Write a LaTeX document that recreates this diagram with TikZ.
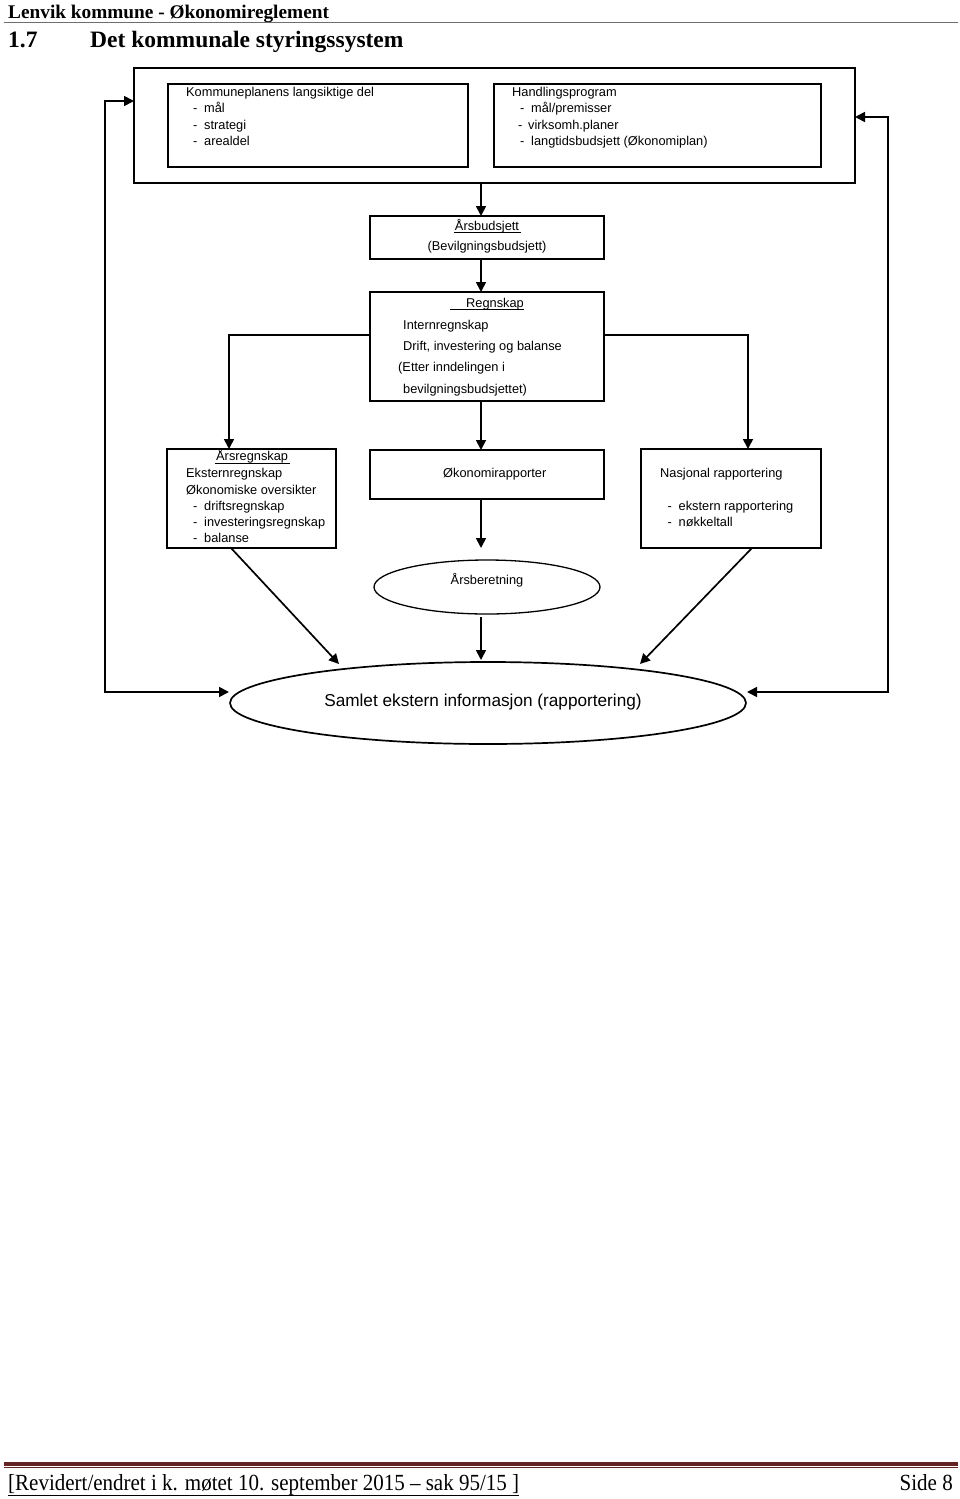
\documentclass[tikz,border=0pt]{standalone}
\usepackage{fontspec}
\setmainfont{Liberation Serif}
\setsansfont{Liberation Sans}
\usetikzlibrary{arrows.meta,shapes.geometric,calc}
\definecolor{footred}{HTML}{632423}
\definecolor{hdrgray}{HTML}{6E6E6E}
\begin{document}
\begin{tikzpicture}[x=1pt,y=-1pt,
  box/.style={draw,line width=1.8pt,inner sep=0pt,outer sep=0pt},
  ell/.style={draw,ellipse,line width=1.7pt,inner sep=0pt,outer sep=0pt},
  conn/.style={line width=1.7pt,-{Triangle[length=10pt,width=10pt]}},
  dconn/.style={line width=1.7pt,{Triangle[length=10pt,width=10pt]}-{Triangle[length=10pt,width=10pt]}},
  sm/.style={font=\sffamily\fontsize{12.8}{15}\selectfont,inner sep=0pt,anchor=base west},
  smc/.style={sm,anchor=base},
  uline/.style={line width=0.8pt}]
\useasboundingbox (0,0) rectangle (960,1499);

% header
\node[anchor=base west,inner sep=0pt,font=\bfseries\fontsize{19.3}{22}\selectfont] (hdr) at (8,18) {Lenvik kommune - Økonomireglement};
\draw[hdrgray,line width=1.2pt] (4,22.5) -- (958,22.5);
\node[anchor=base west,inner sep=0pt,font=\bfseries\fontsize{23.5}{26}\selectfont] (secnum) at (8,47) {1.7};
\node[anchor=base west,inner sep=0pt,font=\bfseries\fontsize{23.5}{26}\selectfont] (sectitle) at (90,47) {Det kommunale styringssystem};

% boxes
\node[box,minimum width=721pt,minimum height=115pt] (outer) at (494.5,125.5) {};
\node[box,minimum width=300pt,minimum height=83pt] (kp) at (318,125.5) {};
\node[box,minimum width=327pt,minimum height=83pt] (hp) at (657.5,125.5) {};
\node[box,minimum width=234pt,minimum height=43pt] (ab) at (487,237.5) {};
\node[box,minimum width=234pt,minimum height=109pt] (rg) at (487,346.5) {};
\node[box,minimum width=169pt,minimum height=99pt] (arsr) at (251.5,498.5) {};
\node[box,minimum width=234pt,minimum height=49pt] (okr) at (487,474.5) {};
\node[box,minimum width=180pt,minimum height=99pt] (nasj) at (731,498.5) {};
\node[ell,line width=1.3pt,minimum width=226pt,minimum height=54pt] (arsber) at (487,587) {};
\node[ell,minimum width=516pt,minimum height=82pt] (samlet) at (488,703) {};

% texts: kommuneplan
\node[sm] (kp0) at (186,96) {Kommuneplanens langsiktige del};
\node[sm] (kp1) at (193,112.3) {\makebox[11pt][l]{-}mål};
\node[sm] (kp2) at (193,129) {\makebox[11pt][l]{-}strategi};
\node[sm] (kp3) at (193,145.3) {\makebox[11pt][l]{-}arealdel};
% handlingsprogram
\node[sm] (hp0) at (512,96) {Handlingsprogram};
\node[sm] (hp1) at (520,112.3) {\makebox[11pt][l]{-}mål/premisser};
\node[sm] (hp2) at (518,129) {\makebox[10pt][l]{-}virksomh.planer};
\node[sm] (hp3) at (520,145.3) {\makebox[11pt][l]{-}langtidsbudsjett (Økonomiplan)};
% arsbudsjett
\node[smc] (ab1) at (487,230.5) {Årsbudsjett};
\draw[uline] ($(ab1.base west)+(-1,2.3)$) -- ($(ab1.base east)+(2,2.3)$);
\node[smc] (ab2) at (487,250.5) {(Bevilgningsbudsjett)};
% regnskap
\node[sm] (rg0) at (466,307) {Regnskap};
\draw[uline] ($(rg0.base west)+(-16,2)$) -- ($(rg0.base east)+(0,2)$);
\node[sm] (rg1) at (403,329) {Internregnskap};
\node[sm] (rg2) at (403,350.5) {Drift, investering og balanse};
\node[sm] (rg3) at (398,371.5) {(Etter inndelingen i};
\node[sm] (rg4) at (403,393) {bevilgningsbudsjettet)};
% arsregnskap
\node[sm] (ar0) at (216,460.7) {Årsregnskap};
\draw[uline] ($(ar0.base west)+(-1,2.2)$) -- ($(ar0.base east)+(2,2.2)$);
\node[sm] (ar1) at (186,477.7) {Eksternregnskap};
\node[sm] (ar2) at (186,494) {Økonomiske oversikter};
\node[sm] (ar3) at (193,510.3) {\makebox[11pt][l]{-}driftsregnskap};
\node[sm] (ar4) at (193,526.6) {\makebox[11pt][l]{-}investeringsregnskap};
\node[sm] (ar5) at (193,542.6) {\makebox[11pt][l]{-}balanse};
% okonomirapporter
\node[sm] (ok0) at (443,477) {Økonomirapporter};
% nasjonal
\node[sm] (na0) at (660,477.3) {Nasjonal rapportering};
\node[sm] (na1) at (667.5,510.5) {\makebox[11pt][l]{-}ekstern rapportering};
\node[sm] (na2) at (667.5,526.5) {\makebox[11pt][l]{-}nøkkeltall};
% arsberetning / samlet
\node[smc] (ae0) at (487,584) {Årsberetning};
\node[anchor=base,inner sep=0pt,font=\sffamily\fontsize{17.2}{20}\selectfont] (sa0) at (483,706.5) {Samlet ekstern informasjon (rapportering)};

% helper coordinates
\coordinate (xa) at (481,0);
\coordinate (yb) at (0,335);
\coordinate (xl) at (229,0);
\coordinate (xr) at (748,0);
\coordinate (xd1) at (231,0);
\coordinate (xd2) at (752,0);
\coordinate (d1) at (339,664);
\coordinate (d2) at (640,664);
\coordinate (yt1) at (0,101);
\coordinate (yt2) at (0,117);
\coordinate (xL) at (105,0);
\coordinate (xR) at (888,0);
\coordinate (yl) at (0,692);
\coordinate (e1) at (229,692);
\coordinate (e2) at (747,692);

% connectors
\draw[conn] (outer.south -| xa) -- (ab.north -| xa);
\draw[conn] (ab.south -| xa) -- (rg.north -| xa);
\draw[conn] (rg.south -| xa) -- (okr.north -| xa);
\draw[conn,shorten >=12pt] (okr.south -| xa) -- (arsber.north -| xa);
\draw[conn,shorten <=3pt,shorten >=2pt] (arsber.south -| xa) -- (samlet.north -| xa);
\draw[conn] (rg.west |- yb) -| (xl |- arsr.north);
\draw[conn] (rg.east |- yb) -| (xr |- nasj.north);
\draw[conn] (arsr.south -| xd1) -- (d1);
\draw[conn] (nasj.south -| xd2) -- (d2);
\draw[dconn] (outer.west |- yt1) -- (xL |- yt1) -- (xL |- yl) -- (e1);
\draw[dconn] (outer.east |- yt2) -- (xR |- yt2) -- (xR |- yl) -- (e2);

% footer
\draw[footred,line width=4pt] (4,1463.5) -- (958,1463.5);
\draw[footred,line width=1pt] (4,1467.8) -- (958,1467.8);
\node[anchor=base west,inner sep=0pt,font=\fontsize{21}{24}\selectfont] (ft) at (8,1490) {\scalebox{1}[1.1]{[Revidert/endret i k. møtet 10. september 2015 – sak 95/15 ]}};
\draw[line width=0.8pt] ($(ft.base west)+(0,5.5)$) -- ($(ft.base east)+(0,5.5)$);
\node[anchor=base east,inner sep=0pt,font=\fontsize{21}{24}\selectfont] (side) at (953,1490) {\scalebox{1}[1.1]{Side 8}};
\end{tikzpicture}
\end{document}
